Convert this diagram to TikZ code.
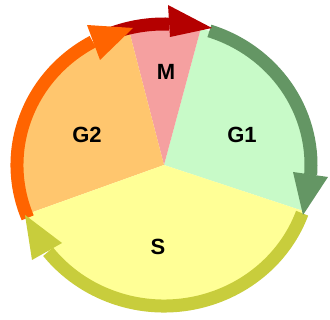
\documentclass[tikz,border=0pt]{standalone}
\usepackage{fontspec}
\setmainfont{Liberation Sans}
\definecolor{fG1}{HTML}{C8FAC8}
\definecolor{fM}{HTML}{F5A0A0}
\definecolor{fG2}{HTML}{FFC66E}
\definecolor{fS}{HTML}{FFFF96}
\definecolor{aG1}{HTML}{649664}
\definecolor{aM}{HTML}{B40000}
\definecolor{aG2}{HTML}{FF6400}
\definecolor{aS}{HTML}{C8CD3C}
\begin{document}
\begin{tikzpicture}[x=1pt,y=1pt,
  lbl/.style={font=\fontsize{22}{22}\selectfont\bfseries, inner sep=0pt},
  shaft/.style={line width=13pt}]
\useasboundingbox (0,0) rectangle (330,320);
\coordinate (c) at (164,155);
\def\rx{147}\def\ry{141}
% wedges
\fill[fG1] (c) -- ++(-19:\rx pt and \ry pt) arc[start angle=-19,end angle=75.5,x radius=\rx,y radius=\ry] -- cycle;
\fill[fM] (c) -- ++(75.5:\rx pt and \ry pt) arc[start angle=75.5,end angle=104,x radius=\rx,y radius=\ry] -- cycle;
\fill[fG2] (c) -- ++(104:\rx pt and \ry pt) arc[start angle=104,end angle=200.5,x radius=\rx,y radius=\ry] -- cycle;
\fill[fS] (c) -- ++(200.5:\rx pt and \ry pt) arc[start angle=200.5,end angle=341,x radius=\rx,y radius=\ry] -- cycle;
% labels
\node[lbl] (lG1) at (242,185) {G1};
\node[lbl] (lG2) at (87,185) {G2};
\node[lbl] (lM) at (166,248) {M};
\node[lbl] (lS) at (158,73) {S};
% shafts
\draw[shaft,aG1] (c) ++(72:\rx pt and \ry pt) arc[start angle=72,end angle=-4,x radius=\rx,y radius=\ry];
\draw[shaft,aS] (c) ++(-20:\rx pt and \ry pt) arc[start angle=-20,end angle=-142,x radius=\rx,y radius=\ry];
\draw[shaft,aG2] (c) ++(202:\rx pt and \ry pt) arc[start angle=202,end angle=119,x radius=\rx,y radius=\ry];
\draw[shaft,aM] (c) ++(111:\rx pt and \ry pt) arc[start angle=111,end angle=88,x radius=\rx,y radius=\ry];
% heads
\fill[aG1] (293,148) -- (328,143) -- (303,105) -- cycle;
\fill[aS] (62,77) -- (32,60) -- (25,105) -- cycle;
\fill[aG2] (87,295) -- (100,260) -- (133,292) -- cycle;
\fill[aM] (168,315) -- (170,283) -- (212,292) -- cycle;
\end{tikzpicture}
\end{document}
